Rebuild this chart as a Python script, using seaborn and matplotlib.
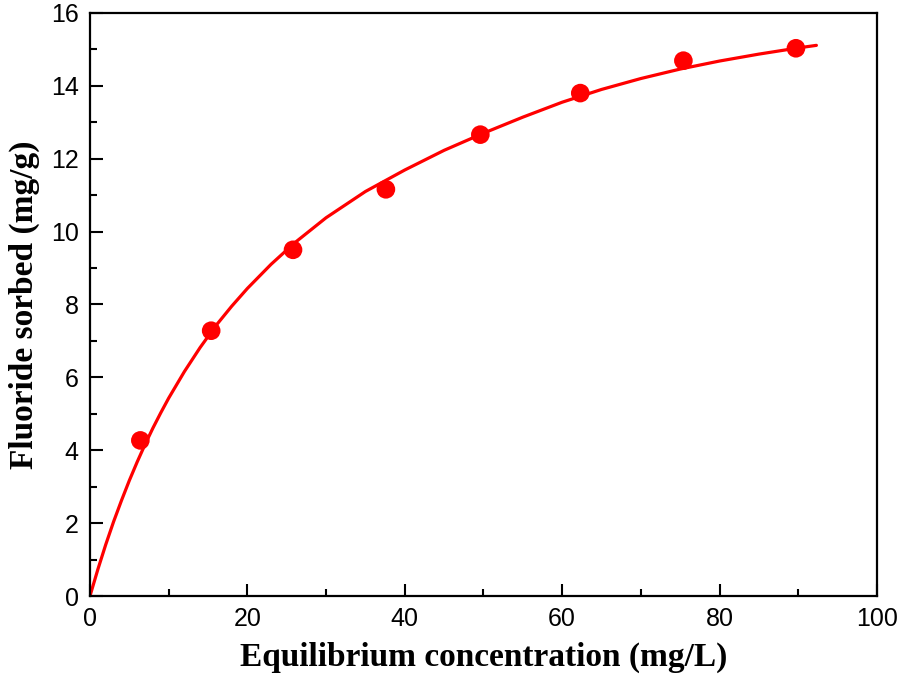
import numpy as np
import pandas as pd
import seaborn as sns
import matplotlib.pyplot as plt
from matplotlib.ticker import MultipleLocator

# measured points
conc = [6.4, 15.4, 25.8, 37.6, 49.6, 62.3, 75.4, 89.7]
sorbed = [4.27, 7.28, 9.5, 11.16, 12.66, 13.8, 14.69, 15.03]

# fitted curve
fit_x = [0, 1, 2, 3, 4, 5, 6, 7, 8, 9, 10, 12, 14, 16, 18, 20, 23, 26,
         30, 35, 40, 45, 50, 55, 60, 65, 70, 75, 80, 85, 90, 92.3]
fit_y = [0, 0.73, 1.41, 2.04, 2.62, 3.17, 3.68, 4.16, 4.61, 5.03, 5.43,
         6.16, 6.82, 7.42, 7.95, 8.44, 9.10, 9.69, 10.38, 11.1, 11.69,
         12.23, 12.7, 13.14, 13.55, 13.9, 14.2, 14.46, 14.68, 14.87,
         15.04, 15.11]

sns.set_style("white")
plt.rcParams["font.family"] = ["Liberation Sans", "DejaVu Sans"]
plt.rcParams.update({"text.color": "black", "axes.labelcolor": "black",
                     "xtick.color": "black", "ytick.color": "black"})

fig = plt.figure(figsize=(8.98, 6.8), dpi=100)
ax = fig.add_axes([0.1002, 0.1235, 0.8764, 0.8575])

fit = pd.DataFrame({"x": fit_x, "y": fit_y})
pts = pd.DataFrame({"x": conc, "y": sorbed})
sns.lineplot(data=fit, x="x", y="y", ax=ax, color="#ff0000", linewidth=2.3,
             sort=False)
sns.scatterplot(data=pts, x="x", y="y", ax=ax, color="#ff0000", s=180,
                edgecolor="none", zorder=3)

ax.set_xlim(0, 100)
ax.set_ylim(0, 16)
ax.xaxis.set_major_locator(MultipleLocator(20))
ax.xaxis.set_minor_locator(MultipleLocator(10))
ax.yaxis.set_major_locator(MultipleLocator(2))
ax.yaxis.set_minor_locator(MultipleLocator(1))
ax.tick_params(which="both", direction="in", top=False, right=False,
               bottom=True, left=True, width=1.5, labelsize=18, pad=8,
               colors="black")
ax.tick_params(which="major", length=9)
ax.tick_params(which="minor", length=5)
for s in ax.spines.values():
    s.set_linewidth(1.6)
    s.set_color("black")

lab = dict(family="Liberation Serif", fontweight="bold", fontsize=24,
           color="black")
ax.set_xlabel("Equilibrium concentration (mg/L)", labelpad=8, **lab)
ax.set_ylabel("Fluoride sorbed (mg/g)", labelpad=8, **lab)

fig.savefig("out.png", dpi=100)
